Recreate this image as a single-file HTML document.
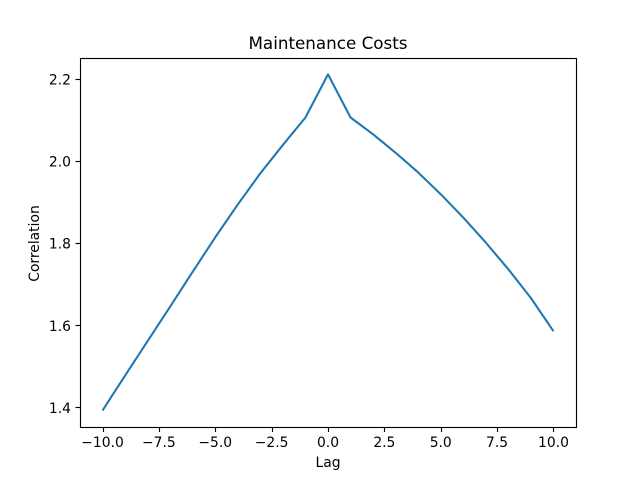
<!DOCTYPE html>
<html>
<head>
<meta charset="utf-8">
<title>Maintenance Costs</title>
<style>
html,body{margin:0;padding:0;background:#fff;}
svg{display:block;}
text{font-family:"DejaVu Sans",sans-serif;fill:#000;}
</style>
</head>
<body>
<svg id="chart" xmlns="http://www.w3.org/2000/svg" width="640" height="480" viewBox="0 0 640 480">
  <rect x="0" y="0" width="640" height="480" fill="#fff"/>
  <rect x="80" y="57.6" width="496" height="369.6" fill="#fff"/>
  <polyline id="series" fill="none" stroke="#1f77b4" stroke-width="2.08" stroke-linejoin="round" stroke-linecap="butt"/>
  <g id="ticks"></g>
  <rect x="80.5" y="58.5" width="496" height="369" fill="none" stroke="#000" stroke-width="1.11"/>
  <text x="328" y="49" font-size="16.67" text-anchor="middle" textLength="159" lengthAdjust="spacingAndGlyphs">Maintenance Costs</text>
  <text x="328" y="467" font-size="13.89" text-anchor="middle">Lag</text>
  <text x="0" y="0" font-size="13.89" text-anchor="middle" transform="translate(39 243.5) rotate(-90)">Correlation</text>
</svg>
<script>
var lags = [-10,-9,-8,-7,-6,-5,-4,-3,-2,-1,0,1,2,3,4,5,6,7,8,9,10];
var correlation = [1.393,1.478,1.562,1.646,1.731,1.815,1.895,1.971,2.040,2.107,2.212,2.107,2.066,2.021,1.973,1.920,1.863,1.802,1.737,1.667,1.586];
var xTickValues = [-10,-7.5,-5,-2.5,0,2.5,5,7.5,10];
var xTickLabels = ["\u221210.0","\u22127.5","\u22125.0","\u22122.5","0.0","2.5","5.0","7.5","10.0"];
var yTickValues = [1.4,1.6,1.8,2.0,2.2];
var yTickLabels = ["1.4","1.6","1.8","2.0","2.2"];

var NS = "http://www.w3.org/2000/svg";
var plotLeft = 80, plotRight = 576, plotTop = 57.6, plotBottom = 427.2;
var xDomainMin = Math.min.apply(null, lags), xDomainMax = Math.max.apply(null, lags);
var xPad = (xDomainMax - xDomainMin) * 0.05;
var yDomainMin = Math.min.apply(null, correlation), yDomainMax = Math.max.apply(null, correlation);
var yPad = (yDomainMax - yDomainMin) * 0.05;

function xScale(v) {
  return plotLeft + (v - (xDomainMin - xPad)) / (xDomainMax - xDomainMin + 2 * xPad) * (plotRight - plotLeft);
}
function yScale(v) {
  return plotBottom - (v - (yDomainMin - yPad)) / (yDomainMax - yDomainMin + 2 * yPad) * (plotBottom - plotTop);
}

var pts = [];
for (var i = 0; i < lags.length; i++) {
  pts.push(xScale(lags[i]).toFixed(2) + "," + yScale(correlation[i]).toFixed(2));
}
document.getElementById("series").setAttribute("points", pts.join(" "));

var ticksGroup = document.getElementById("ticks");

xTickValues.forEach(function (v, idx) {
  var x = Math.floor(xScale(v) + 0.5) + 0.5;
  var tick = document.createElementNS(NS, "line");
  
  
  tick.setAttribute("x1", x);
  tick.setAttribute("x2", x);
  tick.setAttribute("y1", 427.5);
  tick.setAttribute("y2", 432);
  tick.setAttribute("stroke", "#000");
  tick.setAttribute("stroke-width", "1.11");
  ticksGroup.appendChild(tick);
  var label = document.createElementNS(NS, "text");
  
  
  label.setAttribute("x", xScale(v));
  label.setAttribute("y", 447);
  label.setAttribute("font-size", "13.89");
  label.setAttribute("text-anchor", "middle");
  label.textContent = xTickLabels[idx];
  ticksGroup.appendChild(label);
});

yTickValues.forEach(function (v, idx) {
  var y = Math.round(yScale(v) - 0.5) + 0.5;
  var tick = document.createElementNS(NS, "line");
  
  
  tick.setAttribute("x1", 75.5);
  tick.setAttribute("x2", 80.5);
  tick.setAttribute("y1", y);
  tick.setAttribute("y2", y);
  tick.setAttribute("stroke", "#000");
  tick.setAttribute("stroke-width", "1.11");
  ticksGroup.appendChild(tick);
  var label = document.createElementNS(NS, "text");
  
  
  label.setAttribute("x", 71);
  label.setAttribute("y", yScale(v) + 5.3);
  label.setAttribute("font-size", "13.89");
  label.setAttribute("text-anchor", "end");
  label.textContent = yTickLabels[idx];
  ticksGroup.appendChild(label);
});
</script>
</body>
</html>
